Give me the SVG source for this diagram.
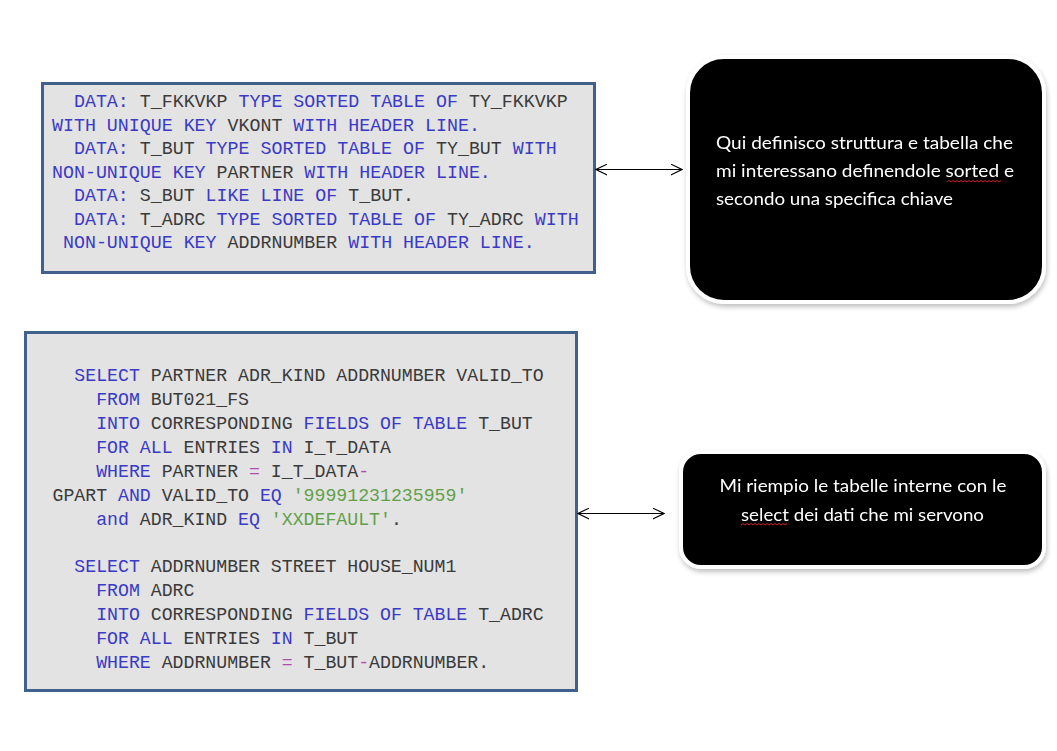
<svg xmlns="http://www.w3.org/2000/svg" width="1057" height="751" viewBox="0 0 1057 751">
<style>
.code{fill:#e3e3e3;stroke:#41608c;stroke-width:3}
.mono{font-family:"Liberation Mono","Courier New",monospace;fill:#3a3a3a}
.k{fill:#3a3ac6}
.s{fill:#62a048}
.o{fill:#b04cb0}
.note{fill:#000;stroke:#fff;stroke-width:4}
.lbl{font-family:Lato,"Open Sans",sans-serif;font-size:17.5px;fill:#fff}
.conn{stroke:#000;stroke-width:1.2;fill:none}
.wavy{stroke:#d02020;stroke-width:1;fill:none}
</style>
<defs>
<marker id="ah" viewBox="0 0 12 12" refX="11.4" refY="6" markerWidth="12" markerHeight="12" markerUnits="userSpaceOnUse" orient="auto-start-reverse">
<path d="M0,0.5 L11.4,6 L0,11.5" fill="none" stroke="#000" stroke-width="1.1"/>
</marker>
<filter id="sh" x="-10%" y="-10%" width="120%" height="125%">
<feGaussianBlur in="SourceAlpha" stdDeviation="2.5"/>
<feOffset dx="1" dy="3" result="b"/>
<feComponentTransfer><feFuncA type="linear" slope="0.25"/></feComponentTransfer>
<feMerge><feMergeNode/><feMergeNode in="SourceGraphic"/></feMerge>
</filter>
</defs>
<rect width="1057" height="751" fill="#fff"/>

<g id="code-data">
<rect class="code" x="42.5" y="83.5" width="552" height="189"/>
<text class="mono" font-size="18.3" xml:space="preserve"><tspan x="52" y="107"><tspan class="k">  DATA:</tspan> T_FKKVKP <tspan class="k">TYPE SORTED TABLE OF</tspan> TY_FKKVKP</tspan><tspan x="52" y="130.5"><tspan class="k">WITH UNIQUE KEY</tspan> VKONT <tspan class="k">WITH HEADER LINE.</tspan></tspan><tspan x="52" y="154"><tspan class="k">  DATA:</tspan> T_BUT <tspan class="k">TYPE SORTED TABLE OF</tspan> TY_BUT <tspan class="k">WITH</tspan></tspan><tspan x="52" y="177.5"><tspan class="k">NON-UNIQUE KEY</tspan> PARTNER <tspan class="k">WITH HEADER LINE.</tspan></tspan><tspan x="52" y="201"><tspan class="k">  DATA:</tspan> S_BUT <tspan class="k">LIKE LINE OF</tspan> T_BUT.</tspan><tspan x="52" y="224.5"><tspan class="k">  DATA:</tspan> T_ADRC <tspan class="k">TYPE SORTED TABLE OF</tspan> TY_ADRC <tspan class="k">WITH</tspan></tspan><tspan x="52" y="248"><tspan class="k"> NON-UNIQUE KEY</tspan> ADDRNUMBER <tspan class="k">WITH HEADER LINE.</tspan></tspan></text>
</g>

<g id="code-select">
<rect class="code" x="25.5" y="332.5" width="551" height="358"/>
<text class="mono" font-size="18.2" xml:space="preserve"><tspan x="52.5" y="381">  <tspan class="k">SELECT</tspan> PARTNER ADR_KIND ADDRNUMBER VALID_TO</tspan><tspan x="52.5" y="404.5">    <tspan class="k">FROM</tspan> BUT021_FS</tspan><tspan x="52.5" y="428.5">    <tspan class="k">INTO</tspan> CORRESPONDING <tspan class="k">FIELDS OF TABLE</tspan> T_BUT</tspan><tspan x="52.5" y="452.5">    <tspan class="k">FOR ALL</tspan> ENTRIES <tspan class="k">IN</tspan> I_T_DATA</tspan><tspan x="52.5" y="476.5">    <tspan class="k">WHERE</tspan> PARTNER <tspan class="o">=</tspan> I_T_DATA<tspan class="o">-</tspan></tspan><tspan x="52.5" y="500.5">GPART <tspan class="k">AND</tspan> VALID_TO <tspan class="k">EQ</tspan> <tspan class="s">'99991231235959'</tspan></tspan><tspan x="52.5" y="524.5">    <tspan class="k">and</tspan> ADR_KIND <tspan class="k">EQ</tspan> <tspan class="s">'XXDEFAULT'</tspan>.</tspan><tspan x="52.5" y="572">  <tspan class="k">SELECT</tspan> ADDRNUMBER STREET HOUSE_NUM1</tspan><tspan x="52.5" y="596">    <tspan class="k">FROM</tspan> ADRC</tspan><tspan x="52.5" y="619.5">    <tspan class="k">INTO</tspan> CORRESPONDING <tspan class="k">FIELDS OF TABLE</tspan> T_ADRC</tspan><tspan x="52.5" y="643.5">    <tspan class="k">FOR ALL</tspan> ENTRIES <tspan class="k">IN</tspan> T_BUT</tspan><tspan x="52.5" y="667.5">    <tspan class="k">WHERE</tspan> ADDRNUMBER <tspan class="o">=</tspan> T_BUT<tspan class="o">-</tspan>ADDRNUMBER.</tspan></text>
</g>

<g id="note-data" filter="url(#sh)">
<rect class="note" x="688" y="57" width="356" height="245" rx="36" ry="36"/>
<text class="lbl"><tspan x="716" y="149" textLength="297" lengthAdjust="spacingAndGlyphs">Qui definisco struttura e tabella che</tspan><tspan x="716" y="177" textLength="298" lengthAdjust="spacingAndGlyphs">mi interessano definendole sorted e</tspan><tspan x="716" y="205" textLength="237" lengthAdjust="spacingAndGlyphs">secondo una specifica chiave</tspan></text>
<path class="wavy" d="M947,182 l2,-1.5 l2,1.5 l2,-1.5 l2,1.5 l2,-1.5 l2,1.5 l2,-1.5 l2,1.5 l2,-1.5 l2,1.5 l2,-1.5 l2,1.5 l2,-1.5 l2,1.5 l2,-1.5 l2,1.5 l2,-1.5 l2,1.5 l2,-1.5 l2,1.5 l2,-1.5 l2,1.5 l2,-1.5 l2,1.5 l2,-1.5 l2,1.5 l2,-1.5"/>
</g>

<g id="note-select" filter="url(#sh)">
<rect class="note" x="681" y="452" width="363" height="115" rx="20" ry="20"/>
<text class="lbl" text-anchor="middle"><tspan x="863" y="492" textLength="287" lengthAdjust="spacingAndGlyphs">Mi riempio le tabelle interne con le</tspan><tspan x="862.5" y="521" textLength="243" lengthAdjust="spacingAndGlyphs">select dei dati che mi servono</tspan></text>
<path class="wavy" d="M741,525 l2,-1.5 l2,1.5 l2,-1.5 l2,1.5 l2,-1.5 l2,1.5 l2,-1.5 l2,1.5 l2,-1.5 l2,1.5 l2,-1.5 l2,1.5 l2,-1.5 l2,1.5 l2,-1.5 l2,1.5 l2,-1.5 l2,1.5 l2,-1.5 l2,1.5 l2,-1.5 l2,1.5 l2,-1.5"/>
</g>

<g id="connectors">
<line class="conn" x1="596" y1="169.5" x2="682" y2="169.5" marker-start="url(#ah)" marker-end="url(#ah)"/>
<line class="conn" x1="578" y1="513.5" x2="664" y2="513.5" marker-start="url(#ah)" marker-end="url(#ah)"/>
</g>
</svg>
